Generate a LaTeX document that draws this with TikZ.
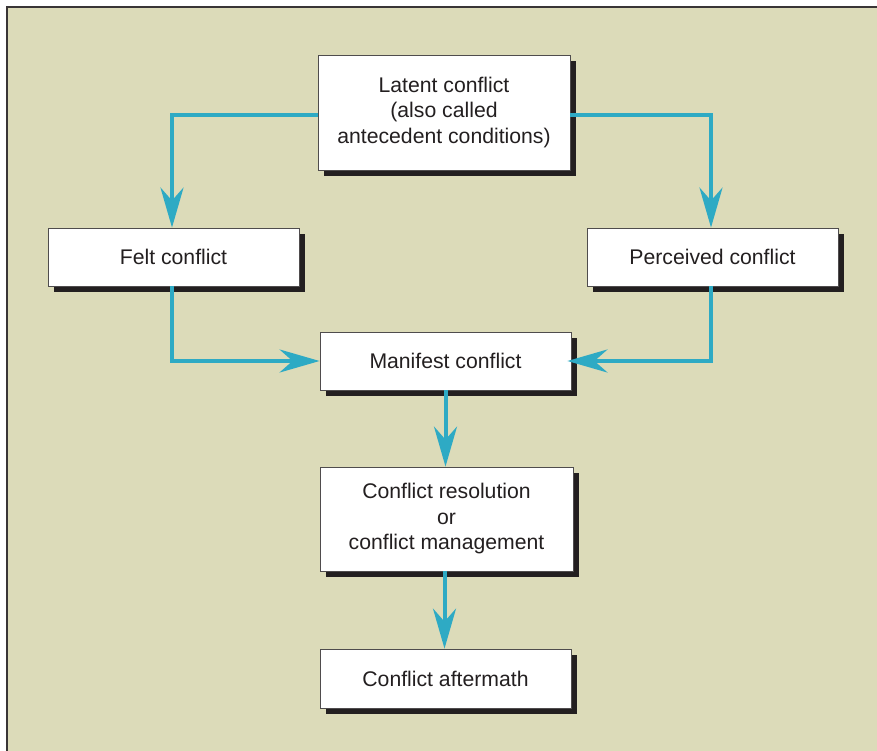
\documentclass[tikz,border=0pt]{standalone}
\usepackage{fontspec}
\setmainfont{Liberation Sans}
\usetikzlibrary{arrows.meta,shadows}
\definecolor{bgc}{HTML}{DCDBB9}
\definecolor{arrc}{HTML}{2EAAC4}
\definecolor{inkc}{HTML}{231F20}
\begin{document}
\begin{tikzpicture}[x=1pt,y=-1pt,
  box/.style={draw=inkc!80, line width=0.8pt, fill=white, text=inkc, align=center,
    inner sep=0pt, font=\fontsize{21.2}{25.5}\selectfont,
    drop shadow={shadow xshift=6pt, shadow yshift=-6pt, fill=inkc, opacity=1}},
  flow/.style={draw=arrc, line width=4pt,
    -{Stealth[length=40pt, width=23pt, inset=13pt]}}]
\useasboundingbox (0,0) rectangle (877,751);
\fill[white] (0,0) rectangle (877,751);
\fill[bgc] (7,8) rectangle (877,751);
\draw[inkc!90, line width=2pt] (6.5,751) -- (6.5,7) -- (877,7);

\node[box, minimum width=252pt, minimum height=115pt] (latent) at (444,112.5)
  {Latent conflict\\(also called\\antecedent conditions)};
\node[box, minimum width=251pt, minimum height=58pt] (felt) at (173.5,257) {Felt conflict};
\node[box, minimum width=251pt, minimum height=58pt] (perc) at (712.5,257) {Perceived conflict};
\node[box, minimum width=251pt, minimum height=58pt] (manif) at (445.5,361) {Manifest conflict};
\node[box, minimum width=253pt, minimum height=104pt] (resol) at (446.5,519)
  {Conflict resolution\\or\\conflict management};
\node[box, minimum width=251pt, minimum height=59pt] (after) at (445.5,678.5) {Conflict aftermath};

\draw[flow] ([yshift=-2.5pt]latent.west) -| ([xshift=-1.5pt]felt.north);
\draw[flow] ([yshift=-2.5pt]latent.east) -| ([xshift=-1.5pt]perc.north);
\draw[flow] ([xshift=-1.5pt]felt.south) |- (manif.west);
\draw[flow, shorten >=-4pt] ([xshift=-1.5pt]perc.south) |- (manif.east);
\draw[flow] (manif.south) -- (manif.south |- resol.north);
\draw[flow] ([xshift=-2pt]resol.south) -- ([xshift=-2pt]resol.south |- after.north);
\end{tikzpicture}
\end{document}
